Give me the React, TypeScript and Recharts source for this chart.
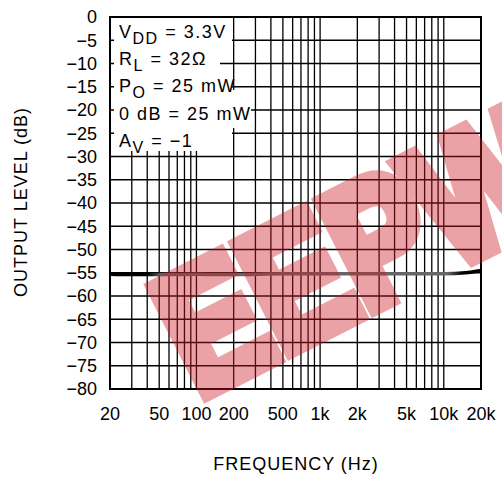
import React from 'react';
import {
  LineChart,
  Line,
  XAxis,
  YAxis,
  CartesianGrid,
  ReferenceArea,
} from 'recharts';

// measured curve (Hz, dB)
const FREQ = [20, 30, 50, 100, 200, 500, 1000, 2000, 5000, 10000, 15000, 20000];
const LEVEL = [-55.3, -55.4, -55.4, -55.3, -55.4, -55.2, -55.2, -55.2, -55.2, -55.2, -55.0, -54.5];

// log grid lines and the labelled ones
const X_GRID = [
  20, 30, 40, 50, 60, 70, 80, 90,
  100, 200, 300, 400, 500, 600, 700, 800, 900,
  1000, 2000, 3000, 4000, 5000, 6000, 7000, 8000, 9000,
  10000, 20000,
];
const X_LABELS = [20, 50, 100, 200, 500, 1000, 2000, 5000, 10000, 20000];
const Y_TICKS = [0, -5, -10, -15, -20, -25, -30, -35, -40, -45, -50, -55, -60, -65, -70, -75, -80];

const data = FREQ.map((f, i) => ({ f, level: LEVEL[i] }));

const FONT = '"Liberation Sans", Arial, sans-serif';

const fmtX = (v: number) => {
  if (!X_LABELS.includes(v)) return '';
  return v >= 1000 ? `${v / 1000}k` : `${v}`;
};
const fmtY = (v: number) => (v < 0 ? `\u2212${Math.abs(v)}` : `${v}`);

const Notes = () => {
  const t = { fontFamily: FONT, fontSize: 18, letterSpacing: 1.5, fill: '#000' } as const;
  const sub = { fontSize: 16, dy: 6 };
  return (
    <svg
      width={502}
      height={477}
      style={{ position: 'absolute', left: 0, top: 0, pointerEvents: 'none' }}
    >
      {/* white boxes behind the condition text */}
      <rect x={114} y={18} width={118} height={34} fill='#fff' />
      <rect x={114} y={50} width={106} height={30} fill='#fff' />
      <rect x={114} y={78} width={118} height={14} fill='#fff' />
      <rect x={114} y={90} width={137} height={38} fill='#fff' />
      <rect x={114} y={126} width={118} height={25} fill='#fff' />

      <text x={119} y={38} {...t}>
        V<tspan {...sub}>DD</tspan>
        <tspan dy={-6}> = 3.3V</tspan>
      </text>
      <text x={119} y={65} {...t}>
        R<tspan {...sub}>L</tspan>
        <tspan dy={-6}> = 32Ω</tspan>
      </text>
      <text x={119} y={92} {...t}>
        P<tspan {...sub}>O</tspan>
        <tspan dy={-6}> = 25 mW</tspan>
      </text>
      <text x={119} y={120} {...t}>
        0 dB = 25 mW
      </text>
      <text x={119} y={147} {...t}>
        A<tspan {...sub}>V</tspan>
        <tspan dy={-6}> = −1</tspan>
      </text>

      <text
        transform='translate(21,202) rotate(-90)'
        textAnchor='middle'
        dominantBaseline='central'
        {...t}
        letterSpacing={1}
      >
        OUTPUT LEVEL (dB)
      </text>
      <text x={296} y={470} textAnchor='middle' {...t} letterSpacing={1}>
        FREQUENCY (Hz)
      </text>

      {/* watermark */}
      <g opacity={0.4}>
        <text
          transform='translate(198,398) rotate(-27) scale(0.82,1)'
          fontFamily={FONT}
          fontWeight='bold'
          fontSize={172}
          fill='rgb(205,25,35)'
          stroke='rgb(205,25,35)'
          strokeWidth={16}
          strokeLinejoin='miter'
        >
          EEPW
        </text>
      </g>
    </svg>
  );
};

export default function App() {
  return (
    <div
      style={{
        position: 'absolute',
        left: 0,
        top: 0,
        width: 502,
        height: 477,
        background: '#fff',
      }}
    >
      <LineChart
        width={502}
        height={477}
        data={data}
        margin={{ top: 17, right: 21, bottom: 0, left: 0 }}
      >
        <defs>
          <linearGradient id='curveShade' x1='0' y1='0' x2='1' y2='0'>
            <stop offset='0%' stopColor='#000' />
            <stop offset='10%' stopColor='#000' />
            <stop offset='14%' stopColor='#666' />
            <stop offset='91%' stopColor='#666' />
            <stop offset='95%' stopColor='#000' />
            <stop offset='100%' stopColor='#000' />
          </linearGradient>
        </defs>
        <CartesianGrid stroke='#000' strokeWidth={1.3} />
        <XAxis
          dataKey='f'
          type='number'
          scale='log'
          domain={[20, 20000]}
          ticks={X_GRID}
          interval={0}
          tickFormatter={fmtX}
          height={88}
          tickSize={0}
          tickMargin={18}
          axisLine={false}
          tick={{ fill: '#000', fontSize: 18, fontFamily: FONT }}
        />
        <YAxis
          type='number'
          domain={[-80, 0]}
          ticks={Y_TICKS}
          interval={0}
          tickFormatter={fmtY}
          width={110}
          tickSize={0}
          tickMargin={13}
          axisLine={false}
          tick={{ fill: '#000', fontSize: 18, fontFamily: FONT }}
        />
        <ReferenceArea
          x1={20}
          x2={20000}
          y1={-80}
          y2={0}
          fill='none'
          stroke='#000'
          strokeWidth={2}
        />
        <Line
          type='monotone'
          dataKey='level'
          stroke='url(#curveShade)'
          strokeWidth={3.5}
          dot={false}
          isAnimationActive={false}
        />
      </LineChart>
      <Notes />
    </div>
  );
}
